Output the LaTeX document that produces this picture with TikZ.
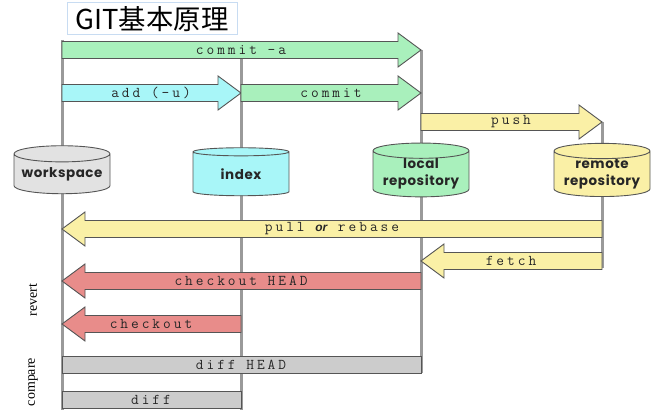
\documentclass[tikz,border=0pt]{standalone}
\usepackage{fontspec}
\setmainfont{Liberation Serif}
\newfontfamily\cjkfont{Noto Sans CJK SC}
\newfontfamily\codefont{Latin Modern Mono}[LetterSpace=20]
\newfontfamily\repofont{Poppins}[LetterSpace=4]
\newfontfamily\orfont{Liberation Sans}
\usetikzlibrary{calc,shapes.geometric,backgrounds}
\definecolor{commitgreen}{HTML}{A9F0BC}
\definecolor{addcyan}{HTML}{A8F6F8}
\definecolor{remoteyellow}{HTML}{FAF0A6}
\definecolor{revertred}{HTML}{E88C8A}
\definecolor{diffgray}{HTML}{CCCCCC}
\definecolor{wsgray}{HTML}{E2E2E2}
\definecolor{edgegray}{HTML}{555555}
\definecolor{lanegray}{HTML}{9A9A9A}
\definecolor{titleblue}{HTML}{C8DCF2}
\begin{document}
\begin{tikzpicture}[line join=miter,
  titlebox/.style={draw=titleblue,fill=white,line width=1bp,minimum width=170bp,minimum height=32bp,inner sep=0pt,font=\cjkfont\fontsize{27.5}{30}\selectfont},
  repo/.style={cylinder,shape border rotate=90,draw=edgegray,line width=0.9bp,aspect=0.2,minimum width=96bp,minimum height=48bp,inner sep=0pt,align=center,text=black!85,font=\repofont\bfseries\fontsize{13.5}{17}\selectfont},
  lane/.style={draw=lanegray,line width=3bp},
  fat/.style={draw=edgegray,line width=0.9bp,fill=#1,
    to path={($(\tikztostart)+(0,8.5bp)$) -- ($(\tikztotarget)!23bp!(\tikztostart)+(0,8.5bp)$)
      -- ($(\tikztotarget)!23bp!(\tikztostart)+(0,17bp)$) -- (\tikztotarget)
      -- ($(\tikztotarget)!23bp!(\tikztostart)+(0,-17bp)$) -- ($(\tikztotarget)!23bp!(\tikztostart)+(0,-8.5bp)$)
      -- ($(\tikztostart)+(0,-8.5bp)$) -- cycle}},
  bar/.style={draw=edgegray,line width=0.9bp,fill=diffgray,
    to path={($(\tikztostart)+(0,8.5bp)$) rectangle ($(\tikztotarget)+(0,-8.5bp)$)}},
  cmd/.style={inner sep=0pt,text=black!85,font=\codefont\fontsize{15}{16}\selectfont},
  sidelabel/.style={rotate=90,inner sep=0pt,font=\fontsize{14}{16}\selectfont},
]
\useasboundingbox (0,0) rectangle (656bp,410bp);
%%
\node (title) at (152bp,391bp) [titlebox] {GIT基本原理};
  \node (workspace) at (62bp,236bp) [repo,fill=wsgray] {workspace};
  \node (index) at (241bp,236bp) [repo,fill=addcyan] {index};
  \node (local) at (421bp,236bp) [repo,fill=commitgreen] {local\\repository};
  \node (remote) at (602bp,236bp) [repo,fill=remoteyellow] {remote\\repository};
\begin{scope}[on background layer]
  \draw [lane] (workspace |- 0,370bp) -- (workspace |- 0,0bp);
  \draw [lane] (index |- 0,352bp) -- (index |- 0,0bp);
  \draw [lane] (local |- 0,360bp) -- (local |- 0,37bp);
  \draw [lane] (remote |- 0,288bp) -- (remote |- 0,142bp);
\end{scope}
  \draw [fat=commitgreen] (workspace |- 0,360bp) to (local |- 0,360bp);
  \draw [fat=addcyan] (workspace |- 0,317bp) to (index |- 0,317bp);
  \draw [fat=commitgreen] (index |- 0,317bp) to (local |- 0,317bp);
  \draw [fat=remoteyellow] (local |- 0,288bp) to (remote |- 0,288bp);
  \draw [fat=remoteyellow] (remote |- 0,181bp) to (workspace |- 0,181bp);
  \draw [fat=remoteyellow] (remote |- 0,149bp) to (local |- 0,149bp);
  \draw [fat=revertred] (local |- 0,129bp) to (workspace |- 0,129bp);
  \draw [fat=revertred] (index |- 0,86bp) to (workspace |- 0,86bp);
  \draw [bar] (workspace |- 0,45.5bp) to (local |- 0,45.5bp);
  \draw [bar] (workspace |- 0,10bp) to (index |- 0,10bp);
  \node (commitall) at (241bp,360bp) [cmd] {commit -a};
  \node (add) at (151bp,317bp) [cmd] {add (-u)};
  \node (commit) at (331bp,317bp) [cmd] {commit};
  \node (push) at (511bp,288bp) [cmd] {push};
  \node (pull) at (332bp,181bp) [cmd] {pull {\orfont\bfseries\itshape\fontsize{12}{14}\selectfont or} rebase};
  \node (fetch) at (511bp,149bp) [cmd] {fetch};
  \node (checkouthead) at (241bp,129bp) [cmd] {checkout HEAD};
  \node (checkout) at (151bp,86bp) [cmd] {checkout};
  \node (diffhead) at (241bp,45.5bp) [cmd] {diff HEAD};
  \node (diff) at (151bp,10bp) [cmd] {diff};
  \node (revert) at (33bp,110bp) [sidelabel] {revert};
  \node (compare) at (33bp,28bp) [sidelabel] {compare};
%
\end{tikzpicture}
\end{document}
